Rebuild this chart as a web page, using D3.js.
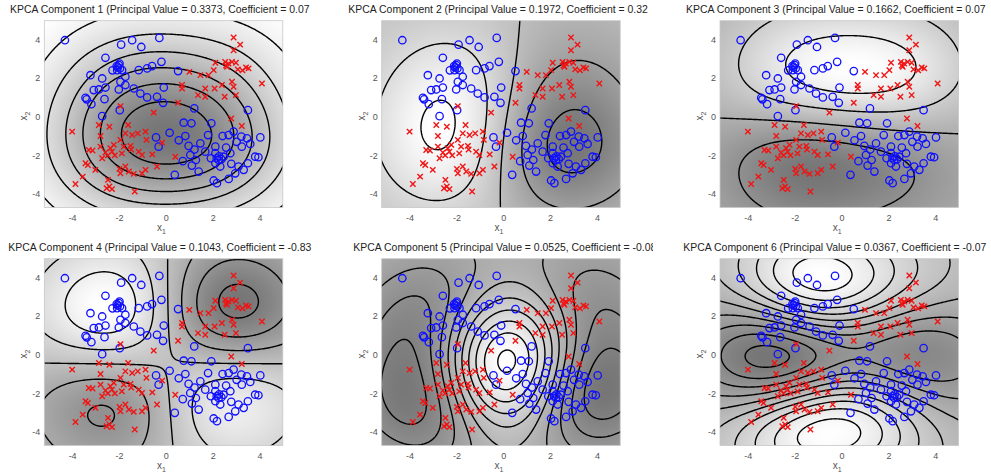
<!DOCTYPE html>
<html lang="en">
<head>
<meta charset="UTF-8">
<title>KPCA Components</title>
<script src="https://d3js.org/d3.v7.min.js"></script>
<style>
  body { margin: 0; background: #fff; }
  svg text { font-family: "Liberation Sans", Arial, Helvetica, sans-serif; }
</style>
</head>
<body>
<svg id="chart" width="991" height="476"></svg>
<script>
// values
const principalValues = [0.3373, 0.1972, 0.1662, 0.1043, 0.0525, 0.0367];
const coefficients = ["0.07", "0.32", "0.07", "-0.83", "-0.08", "-0.07"];
const xTicks = [-4, -2, 0, 2, 4];
const yTicks = [-4, -2, 0, 2, 4];
const xDomain = [-5.21, 4.97];
const yDomain = [-4.7, 4.97];

// class 1 (blue circles)
const circleX = [-4.33,-1.93,-1.46,-1.07,-0.30,-2.60,-0.21,-2.03,-2.08,-1.98,-2.12,-2.00,-2.10,-1.89,-3.24,-2.74,-2.30,-1.75,-1.18,-0.82,
  -0.61,0.50,-1.96,-2.88,-2.60,-3.10,-2.03,-1.75,-1.39,-1.11,-0.82,-0.40,-0.11,-3.45,-3.20,-2.64,-0.14,-1.99,-2.74,-3.40,
  1.19,3.48,0.74,1.07,1.92,0.14,-0.44,-0.33,0.53,0.81,0.95,1.78,1.45,2.40,2.66,2.87,3.20,3.44,4.01,3.58,
  3.22,2.09,1.66,1.02,1.26,2.09,2.23,2.44,2.73,2.09,2.30,2.77,3.08,3.48,3.79,3.93,2.94,2.66,2.02,2.16,
  1.38,0.36,1.09,2.25,2.35,2.15,2.55,1.20,3.00,0.70,3.30,1.90];
const circleY = [3.96,3.73,3.96,3.61,4.08,3.05,2.84,2.67,2.55,2.50,2.62,2.75,2.41,2.41,2.15,1.98,2.40,2.07,2.41,2.50,
  2.62,2.36,1.81,1.41,1.51,1.38,1.41,1.64,1.46,1.20,1.00,1.03,1.51,0.98,0.65,0.91,0.72,0.34,0.03,0.90,
  0.43,0.34,-0.31,-0.34,-0.34,-0.83,-1.07,-1.55,-1.22,-1.00,-1.51,-0.95,-1.38,-1.00,-0.95,-0.77,-1.03,-1.12,-1.07,-1.41,
  -1.55,-1.55,-1.81,-1.98,-2.24,-1.89,-2.24,-2.07,-1.89,-2.41,-2.58,-2.44,-2.58,-2.41,-2.07,-2.10,-2.93,-3.22,-3.30,-3.44,
  -2.84,-3.01,-2.53,-2.05,-2.20,-2.15,-1.60,-1.70,-1.30,-2.30,-2.75,-2.15];

// class 2 (red crosses)
const crossX = [2.87,3.15,2.87,2.09,2.51,2.59,2.80,2.97,3.51,3.40,2.02,1.80,0.98,1.45,0.67,0.67,1.66,1.35,1.66,2.06,
  2.37,2.80,2.87,2.49,2.97,4.08,0.50,2.77,3.22,-0.54,-1.96,-4.02,-2.88,-2.43,-1.63,-2.81,-3.31,-3.15,-2.39,-2.24,
  -1.96,-1.75,-1.46,-1.22,-0.89,-0.85,-1.53,-1.82,-1.18,-1.04,-2.32,-2.81,-3.45,-3.35,-2.74,-3.03,-3.57,-3.88,-2.49,-2.43,
  -2.32,-2.55,-1.75,-1.60,-1.96,-1.39,-1.04,-0.89,-0.40,-1.35,-0.18,0.38,2.55,2.65,3.05,-2.50,-2.20,-2.60,-1.90,-1.50,
  -2.00,-0.60,3.25];
const crossY = [4.10,3.73,3.44,2.79,2.84,2.58,2.84,2.79,2.50,2.55,2.41,2.15,2.32,2.15,1.64,1.46,1.46,1.12,1.03,1.46,
  1.64,1.81,1.55,1.03,1.12,1.72,0.72,-0.09,-0.48,0.21,0.55,-0.77,-0.43,-0.52,-0.43,-1.00,-1.72,-1.75,-1.63,-1.46,
  -1.20,-0.86,-0.95,-0.86,-0.77,-1.20,-1.51,-1.55,-1.81,-1.98,-1.81,-1.55,-2.41,-2.50,-2.15,-2.75,-3.10,-3.48,-3.27,-3.61,
  -3.75,-3.70,-2.58,-2.84,-2.93,-2.96,-2.93,-2.75,-2.58,-3.87,-1.34,-2.07,2.65,2.75,2.45,-2.00,-2.00,-1.85,-1.90,-1.70,
  -2.70,-1.95,2.40];

// kernel PCA settings
const kernelSigma = 2.28;
const componentSigns = [-1, -1, 1, -1, 1, 1];
// number of contour steps across each component's value range
const levelCounts = [6.5, 4.5, 4.5, 6, 10, 10];

// layout
const colLeft = [44.3, 381.7, 720];
const rowTop = [20.7, 258.7];
const plotW = 238.5, plotH = 186.8;
const titleStart = [10, 348.3, 686, 8.3, 353.3, 683.3];
const tileRight = [318, 653, 991];

const svg = d3.select("#chart");
const defs = svg.append("defs");

// ---- kernel PCA on the scatter data ----
const pts = circleX.map((x, i) => [x, circleY[i]])
  .concat(crossX.map((x, i) => [x, crossY[i]]));
const N = pts.length;
const g2 = 2 * kernelSigma * kernelSigma;
const K = pts.map(a => Float64Array.from(pts, b => {
  const dx = a[0] - b[0], dy = a[1] - b[1];
  return Math.exp(-(dx * dx + dy * dy) / g2);
}));

function jacobi(A) {
  const n = A.length;
  const V = d3.range(n).map(i => { const r = new Float64Array(n); r[i] = 1; return r; });
  for (let sweep = 0; sweep < 60; sweep++) {
    let off = 0;
    for (let p = 0; p < n; p++) for (let q = p + 1; q < n; q++) off += A[p][q] * A[p][q];
    if (off < 1e-20) break;
    for (let p = 0; p < n - 1; p++) {
      for (let q = p + 1; q < n; q++) {
        const apq = A[p][q];
        if (Math.abs(apq) < 1e-15) continue;
        const theta = (A[q][q] - A[p][p]) / (2 * apq);
        const t = theta >= 0 ? 1 / (theta + Math.sqrt(theta * theta + 1))
                             : -1 / (-theta + Math.sqrt(theta * theta + 1));
        const c = 1 / Math.sqrt(t * t + 1), s = t * c;
        for (let k = 0; k < n; k++) {
          const akp = A[k][p], akq = A[k][q];
          A[k][p] = c * akp - s * akq;
          A[k][q] = s * akp + c * akq;
        }
        for (let k = 0; k < n; k++) {
          const apk = A[p][k], aqk = A[q][k];
          A[p][k] = c * apk - s * aqk;
          A[q][k] = s * apk + c * aqk;
        }
        for (let k = 0; k < n; k++) {
          const vkp = V[k][p], vkq = V[k][q];
          V[k][p] = c * vkp - s * vkq;
          V[k][q] = s * vkp + c * vkq;
        }
      }
    }
  }
  return { values: d3.range(n).map(i => A[i][i]), V };
}

const eig = jacobi(K.map(r => Float64Array.from(r)));
const order = d3.range(N).sort((a, b) => eig.values[b] - eig.values[a]);
const comps = order.slice(0, 6).map((col, c) => {
  let v = Float64Array.from(eig.V, r => r[col]);
  let big = 0;
  v.forEach(e => { if (Math.abs(e) > Math.abs(big)) big = e; });
  const sg = Math.sign(big) * componentSigns[c];
  return v.map(e => e * sg);
});

// ---- evaluate the components on a grid ----
const step = 0.06, pad = 0.3;
const gx0 = xDomain[0] - pad, gy1 = yDomain[1] + pad;
const nx = Math.ceil((xDomain[1] - xDomain[0] + 2 * pad) / step) + 1;
const ny = Math.ceil((yDomain[1] - yDomain[0] + 2 * pad) / step) + 1;
const fields = comps.map(() => new Float64Array(nx * ny));
const kv = new Float64Array(N);
for (let j = 0; j < ny; j++) {
  const gy = gy1 - j * step;
  for (let i = 0; i < nx; i++) {
    const gx = gx0 + i * step;
    for (let n = 0; n < N; n++) {
      const dx = gx - pts[n][0], dy = gy - pts[n][1];
      kv[n] = Math.exp(-(dx * dx + dy * dy) / g2);
    }
    for (let c = 0; c < 6; c++) {
      const v = comps[c];
      let s = 0;
      for (let n = 0; n < N; n++) s += v[n] * kv[n];
      fields[c][j * nx + i] = s;
    }
  }
}

// ---- draw panels ----
fields.forEach((field, c) => {
  const col = c % 3, row = Math.floor(c / 3);
  const left = colLeft[col], top = rowTop[row];
  const x = d3.scaleLinear().domain(xDomain).range([left, left + plotW]);
  const y = d3.scaleLinear().domain(yDomain).range([top + plotH, top]);

  // value range over the visible area
  let vmin = Infinity, vmax = -Infinity;
  for (let j = 0; j < ny; j++) {
    const gy = gy1 - j * step;
    if (gy < yDomain[0] || gy > yDomain[1]) continue;
    for (let i = 0; i < nx; i++) {
      const gx = gx0 + i * step;
      if (gx < xDomain[0] || gx > xDomain[1]) continue;
      const f = field[j * nx + i];
      if (f < vmin) vmin = f;
      if (f > vmax) vmax = f;
    }
  }

  const shade = d3.scaleLinear().domain([vmin, vmax]).range([118, 255]).clamp(true);
  const canvas = document.createElement("canvas");
  canvas.width = nx; canvas.height = ny;
  const ctx = canvas.getContext("2d");
  const img = ctx.createImageData(nx, ny);
  for (let k = 0; k < nx * ny; k++) {
    const gv = Math.round(shade(field[k]));
    img.data[4 * k] = gv; img.data[4 * k + 1] = gv; img.data[4 * k + 2] = gv; img.data[4 * k + 3] = 255;
  }
  ctx.putImageData(img, 0, 0);

  const clipId = "clip" + c;
  defs.append("clipPath").attr("id", clipId)
    .append("rect").attr("x", left).attr("y", top).attr("width", plotW).attr("height", plotH);
  const tclip = "tclip" + c;
  defs.append("clipPath").attr("id", tclip)
    .append("rect").attr("x", col * 330).attr("y", top - 22).attr("width", tileRight[col] - col * 330).attr("height", 20);

  const g = svg.append("g");
  const plot = g.append("g").attr("clip-path", `url(#${clipId})`);
  plot.append("image")
    .attr("href", canvas.toDataURL())
    .attr("x", x(gx0 - step / 2)).attr("y", y(gy1 + step / 2))
    .attr("width", x(gx0 + (nx - 0.5) * step) - x(gx0 - step / 2))
    .attr("height", y(gy1 - (ny - 0.5) * step) - y(gy1 + step / 2))
    .attr("preserveAspectRatio", "none");

  // contour levels: multiples of a fixed step, so zero is always a level
  const lstep = (vmax - vmin) / levelCounts[c];
  const thresholds = d3.range(Math.ceil(vmin / lstep), Math.floor(vmax / lstep) + 1)
    .map(k => k * lstep).filter(t => t > vmin && t < vmax);
  const contours = d3.contours().size([nx, ny]).thresholds(thresholds)(Array.from(field));
  const proj = d3.geoTransform({
    point: function (px, py) { this.stream.point(x(gx0 + (px - 0.5) * step), y(gy1 - (py - 0.5) * step)); }
  });
  const path = d3.geoPath(proj);
  plot.append("g").selectAll("path").data(contours).join("path")
    .attr("d", path)
    .attr("fill", "none")
    .attr("stroke", "#000")
    .attr("stroke-width", 1.4)
    .attr("stroke-linejoin", "round");

  g.append("rect").attr("x", left).attr("y", top).attr("width", plotW).attr("height", plotH)
    .attr("fill", "none").attr("stroke", "#c8c8c8").attr("stroke-width", 0.8);

  // markers
  g.append("g").selectAll("circle").data(circleX).join("circle")
    .attr("cx", (d, i) => x(d)).attr("cy", (d, i) => y(circleY[i]))
    .attr("r", 3.7).attr("fill", "none").attr("stroke", "#1010ff").attr("stroke-width", 1.3);
  const a = 2.7;
  g.append("g").selectAll("path").data(crossX).join("path")
    .attr("transform", (d, i) => `translate(${x(d)},${y(crossY[i])})`)
    .attr("d", `M${-a},${-a}L${a},${a}M${-a},${a}L${a},${-a}`)
    .attr("stroke", "#f01515").attr("stroke-width", 1.4).attr("fill", "none");

  // ticks
  g.append("g").selectAll("text").data(xTicks).join("text")
    .attr("x", d => x(d)).attr("y", top + plotH + 13)
    .attr("text-anchor", "middle").attr("font-size", 9).attr("fill", "#555")
    .text(d => d);
  g.append("g").selectAll("text").data(yTicks).join("text")
    .attr("x", left - 4).attr("y", d => y(d) + 3.2)
    .attr("text-anchor", "end").attr("font-size", 9).attr("fill", "#555")
    .text(d => d);

  // axis labels
  const xl = g.append("text").attr("x", left + plotW / 2 - 2).attr("y", top + plotH + 23)
    .attr("text-anchor", "middle").attr("font-size", 10).attr("fill", "#555");
  xl.append("tspan").text("x");
  xl.append("tspan").attr("font-size", 7).attr("dy", 3).text("1");
  const yl = g.append("text")
    .attr("transform", `translate(${left - 17},${top + plotH / 2 + 2}) rotate(-90)`)
    .attr("text-anchor", "middle").attr("font-size", 10).attr("fill", "#555");
  yl.append("tspan").text("x");
  yl.append("tspan").attr("font-size", 7).attr("dy", 3).text("2");

  // title
  g.append("text").attr("clip-path", `url(#${tclip})`)
    .attr("x", titleStart[c]).attr("y", top - 7.5)
    .attr("font-size", 10.45).attr("fill", "#222")
    .text(`KPCA Component ${c + 1} (Principal Value = ${principalValues[c].toFixed(4)}, Coefficient = ${coefficients[c]}`);
});
</script>
</body>
</html>
